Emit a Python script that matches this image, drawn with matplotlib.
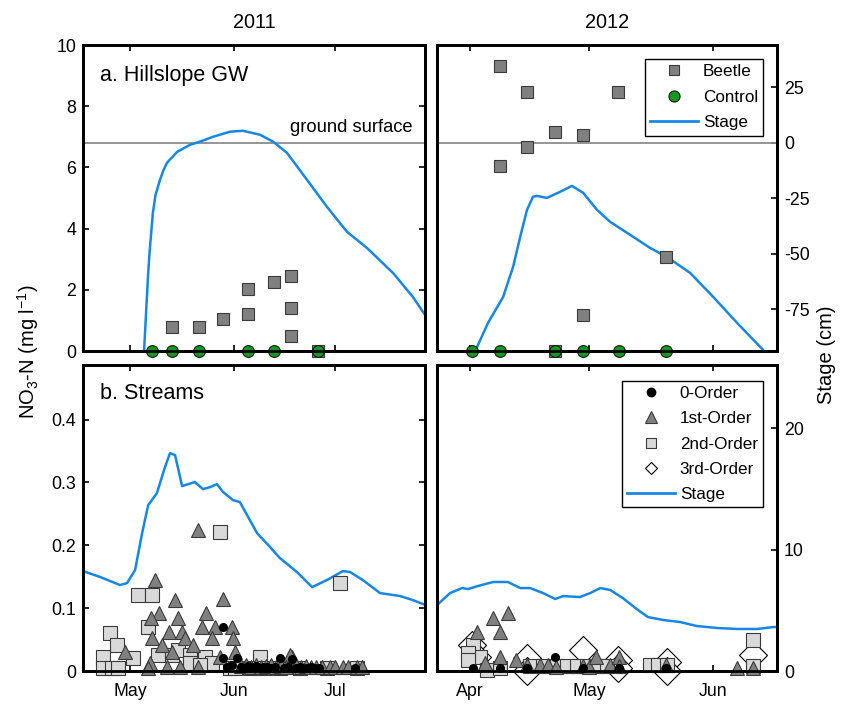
import numpy as np
import matplotlib
matplotlib.use('Agg')
import matplotlib.pyplot as plt
import matplotlib.dates as mdates
from matplotlib.lines import Line2D
from matplotlib.ticker import FuncFormatter

plt.rcParams['font.family'] = ['Liberation Sans', 'DejaVu Sans']
plt.rcParams['mathtext.fontset'] = 'custom'
plt.rcParams['mathtext.rm'] = 'Liberation Sans'
plt.rcParams['mathtext.it'] = 'Liberation Sans:italic'
plt.rcParams['axes.unicode_minus'] = False

# ---- data: day of year, NO3-N (mg/l), stage (cm) ----
# a. hillslope groundwater, 2011
gw11_beetle_doy = [133.5, 141.5, 148.7, 156.0, 156.0, 164.0, 169.0, 169.0, 169.0, 177.0]
gw11_beetle_no3 = [0.78, 0.78, 1.05, 1.21, 2.03, 2.25, 2.45, 1.40, 0.49, 0.00]
gw11_control_doy = [127.5, 133.5, 141.5, 156.0, 164.0, 177.0]
gw11_control_no3 = [0.0, 0.0, 0.0, 0.0, 0.0, 0.0]
gw11_stage_doy = [124.6, 125.2, 126.4, 126.9, 127.8, 128.6, 129.9, 131.0, 132.0, 135.0,
                  138.9, 141.8, 145.7, 150.8, 154.6, 159.7, 163.6, 167.7, 173.7, 179.6,
                  185.6, 191.5, 199.3, 205.2, 208.2, 211.0]
gw11_stage_cm = [-100.0, -93.0, -58.6, -47.7, -31.5, -23.4, -16.7, -12.2, -9.0, -4.1,
                 -0.9, 0.5, 2.7, 5.0, 5.4, 3.6, 0.5, -4.5, -16.7, -28.8,
                 -40.1, -47.3, -58.6, -69.4, -76.1, -82.0]

# a. hillslope groundwater, 2012
gw12_beetle_doy = [99.5, 106.3, 129.2, 113.4, 120.4, 106.3, 99.5, 141.2, 120.4, 113.4]
gw12_beetle_no3 = [9.31, 8.46, 8.46, 7.16, 7.06, 6.67, 6.05, 3.07, 1.18, 0.00]
gw12_control_doy = [92.5, 99.5, 113.4, 120.4, 129.4, 141.2]
gw12_control_no3 = [0.0, 0.0, 0.0, 0.0, 0.0, 0.0]
gw12_stage_doy = [92.0, 93.3, 96.5, 100.3, 102.8, 104.6, 106.3, 107.8, 108.8, 111.3,
                  114.6, 117.6, 120.4, 123.9, 127.2, 132.2, 137.2, 141.5, 147.3, 153.1,
                  159.1, 165.6, 168.0]
gw12_stage_cm = [-100.0, -93.7, -81.1, -69.4, -55.9, -42.3, -30.2, -24.3, -23.9, -24.8,
                 -22.1, -19.4, -22.5, -30.2, -35.6, -41.4, -47.3, -51.4, -58.6, -69.4,
                 -81.1, -93.2, -100.0]

# b. streams, 2011
st11_o0_doy = [148.7, 148.7, 152.8, 151.4, 149.9, 156.1, 165.6, 169.2, 154.0, 155.2,
               157.3, 158.4, 159.6, 160.7, 161.9, 163.0, 164.2, 166.7, 167.9, 170.3,
               171.5, 172.6, 173.8, 175.0, 176.1, 177.3, 188.0]
st11_o0_no3 = [0.070, 0.021, 0.021, 0.010, 0.006, 0.008, 0.021, 0.019, 0.007, 0.005,
               0.006, 0.008, 0.005, 0.006, 0.007, 0.005, 0.006, 0.005, 0.007, 0.005,
               0.006, 0.005, 0.005, 0.006, 0.005, 0.005, 0.005]
st11_o1_doy = [128.4, 141.2, 134.4, 148.7, 129.6, 127.3, 135.3, 143.6, 132.6, 136.5,
               142.4, 146.3, 151.4, 127.5, 137.4, 145.4, 151.7, 130.5, 139.8, 119.5,
               133.5, 152.3, 127.0, 132.0, 141.2, 147.8, 169.2, 126.4, 135.9, 168.6,
               154.0, 155.5, 157.0, 158.5, 160.0, 161.5, 163.0, 164.5, 166.0, 167.5,
               170.5, 172.0, 173.5, 175.0, 176.5, 178.0, 180.5, 182.0, 184.5, 186.0,
               188.5, 190.0]
st11_o1_no3 = [0.145, 0.224, 0.113, 0.114, 0.092, 0.084, 0.084, 0.092, 0.062, 0.062,
               0.070, 0.070, 0.070, 0.052, 0.052, 0.052, 0.052, 0.041, 0.041, 0.030,
               0.030, 0.030, 0.013, 0.006, 0.006, 0.022, 0.022, 0.005, 0.006, 0.025,
               0.008, 0.010, 0.007, 0.009, 0.006, 0.008, 0.010, 0.007, 0.008, 0.006,
               0.009, 0.007, 0.008, 0.006, 0.007, 0.006, 0.007, 0.006, 0.007, 0.006,
               0.007, 0.006]
st11_o2_doy = [115.0, 117.1, 113.0, 121.9, 113.0, 115.6, 117.4, 123.4, 127.5, 126.4,
               147.8, 183.5, 159.7, 129.3, 133.5, 135.3, 138.9, 143.3, 138.9, 145.4,
               141.8, 150.8, 152.3, 156.7, 161.2, 165.6, 171.6, 179.6, 188.6]
st11_o2_no3 = [0.060, 0.041, 0.022, 0.021, 0.005, 0.005, 0.005, 0.121, 0.121, 0.070,
               0.221, 0.140, 0.022, 0.025, 0.025, 0.033, 0.025, 0.022, 0.013, 0.013,
               0.010, 0.005, 0.005, 0.005, 0.005, 0.005, 0.005, 0.005, 0.005]
st11_stage_doy = [107.0, 112.1, 118.0, 120.1, 122.5, 124.6, 126.4, 129.0, 131.4, 132.9,
                  134.4, 136.5, 140.3, 142.7, 144.8, 146.9, 148.7, 151.7, 153.7, 158.8,
                  162.7, 165.6, 170.7, 175.2, 179.6, 184.4, 186.5, 190.3, 195.4, 201.4,
                  205.2, 208.8]
st11_stage_cm = [8.23, 7.74, 7.08, 7.24, 8.31, 11.36, 13.66, 14.65, 16.79, 17.94,
                 17.78, 15.23, 15.56, 14.98, 15.14, 15.39, 14.73, 14.07, 13.91, 11.36,
                 10.20, 9.30, 8.15, 6.91, 7.49, 8.23, 8.15, 7.49, 6.42, 6.17,
                 5.84, 5.45]

# b. streams, 2012
st12_o0_doy = [92.8, 99.5, 106.3, 113.4, 120.4, 129.4, 141.2]
st12_o0_no3 = [0.005, 0.005, 0.005, 0.022, 0.005, 0.005, 0.005]
st12_o1_doy = [101.5, 97.8, 99.5, 93.8, 95.8, 99.5, 103.6, 106.3, 109.6, 111.6,
               113.6, 120.4, 121.9, 123.7, 127.2, 129.4, 129.4, 141.2, 159.1, 163.1]
st12_o1_no3 = [0.092, 0.084, 0.062, 0.062, 0.013, 0.022, 0.017, 0.010, 0.010, 0.010,
               0.006, 0.008, 0.006, 0.022, 0.010, 0.022, 0.008, 0.010, 0.005, 0.005]
st12_o2_doy = [92.8, 94.5, 91.5, 91.5, 96.3, 99.5, 107.1, 110.3, 113.9, 116.4,
               118.9, 121.4, 123.9, 126.4, 137.2, 139.2, 141.5, 163.1, 163.1]
st12_o2_no3 = [0.041, 0.022, 0.028, 0.017, 0.002, 0.005, 0.008, 0.008, 0.008, 0.008,
               0.008, 0.008, 0.008, 0.008, 0.010, 0.010, 0.010, 0.049, 0.008]
st12_o3_doy = [92.5, 93.8, 106.3, 106.3, 120.4, 129.2, 129.2, 141.5, 141.5, 163.1]
st12_o3_no3 = [0.041, 0.022, 0.021, 0.000, 0.033, 0.017, 0.005, 0.014, 0.000, 0.025]
st12_stage_doy = [83.7, 87.0, 90.0, 91.5, 94.0, 97.8, 101.5, 104.6, 107.1, 110.3,
                  113.4, 115.4, 119.6, 122.2, 124.7, 127.2, 130.4, 134.2, 136.7, 140.5,
                  144.8, 149.0, 154.1, 159.1, 164.1, 168.1, 169.1]
st12_stage_cm = [5.43, 6.42, 6.83, 6.75, 7.00, 7.33, 7.33, 6.83, 6.83, 6.42,
                 5.93, 6.17, 6.09, 6.42, 6.83, 6.67, 6.00, 5.02, 4.44, 4.20,
                 4.03, 3.70, 3.54, 3.46, 3.46, 3.62, 3.62]

xlim_doy = {2011: (107.0, 208.8), 2012: (83.7, 169.1)}

BLUE = '#1787e6'
GREEN = '#109a1c'
GRAY = '#808080'
LIGHT = '#d9d9d9'
TICK_FS = 12.8
LEG_FS = 12.3


def to_num(year, doy):
    return mdates.date2num(np.datetime64(f'{year}-01-01')) + np.asarray(doy, dtype=float) - 1


fig = plt.figure(figsize=(8.41, 7.04), dpi=100)
W, H = 841, 704


def make_axes(x0, x1, ytop, ybot):
    return fig.add_axes([x0 / W, 1 - ybot / H, (x1 - x0) / W, (ybot - ytop) / H])


ax_a11 = make_axes(83, 425, 45, 351)
ax_a12 = make_axes(437, 777, 45, 351)
ax_b11 = make_axes(83, 425, 365, 671)
ax_b12 = make_axes(437, 777, 365, 671)

panels = {}
for ax, year, top in [(ax_a11, 2011, True), (ax_a12, 2012, True),
                      (ax_b11, 2011, False), (ax_b12, 2012, False)]:
    tw = ax.twinx()
    ax.set_zorder(tw.get_zorder() + 1)
    ax.patch.set_visible(False)
    ax.set_xlim(*to_num(year, xlim_doy[year]))
    ax.xaxis.set_major_locator(mdates.MonthLocator())
    ax.xaxis.set_major_formatter(mdates.DateFormatter('%b'))
    for a in (ax, tw):
        for s in a.spines.values():
            s.set_linewidth(2)
    ax.tick_params(direction='in', length=4, width=1.2, top=True, labelsize=TICK_FS,
                   labelbottom=not top, pad=5)
    ax.tick_params(axis='x', pad=9)
    tw.tick_params(direction='in', length=4, width=1.2, labelsize=TICK_FS, pad=5)
    if year == 2011:
        ax.tick_params(right=True)
        tw.tick_params(right=False, labelright=False)
    else:
        ax.tick_params(left=False, labelleft=False)
    panels[(year, top)] = (ax, tw)

# ---- a. hillslope GW ----
for year, bd, bn, cd, cn, sd, sc in [
        (2011, gw11_beetle_doy, gw11_beetle_no3, gw11_control_doy, gw11_control_no3,
         gw11_stage_doy, gw11_stage_cm),
        (2012, gw12_beetle_doy, gw12_beetle_no3, gw12_control_doy, gw12_control_no3,
         gw12_stage_doy, gw12_stage_cm)]:
    ax, tw = panels[(year, True)]
    tw.axhline(0, color='#8c8c8c', lw=1.3)
    tw.plot(to_num(year, sd), sc, color=BLUE, lw=1.8)
    tw.set_ylim(-93.7, 44)
    tw.set_yticks([-75, -50, -25, 0, 25])
    ax.plot(to_num(year, bd), bn, 's', ms=8, mfc=GRAY, mec='#3a3a3a', mew=0.8,
            ls='none', clip_on=False)
    ax.plot(to_num(year, cd), cn, 'o', ms=8.5, mfc=GREEN, mec='#1a1a1a', mew=0.8,
            ls='none', clip_on=False)
    ax.set_ylim(0, 10)
    ax.set_yticks([0, 2, 4, 6, 8, 10])

ax_a11.text(0.965, 0.703, 'ground surface', transform=ax_a11.transAxes,
            ha='right', va='bottom', fontsize=13.2)
ax_a11.text(0.05, 0.90, 'a. Hillslope GW', transform=ax_a11.transAxes,
            ha='left', va='center', fontsize=15.5)

h_gw = [Line2D([], [], marker='s', ms=7, mfc=GRAY, mec='#3a3a3a', mew=0.8, ls='none'),
        Line2D([], [], marker='o', ms=8, mfc=GREEN, mec='#1a1a1a', mew=0.8, ls='none'),
        Line2D([], [], color=BLUE, lw=2)]
ax_a12.legend(h_gw, ['Beetle', 'Control', 'Stage'], loc='upper right',
              bbox_to_anchor=(0.959, 0.954), borderaxespad=0, fancybox=False,
              edgecolor='black', framealpha=1, fontsize=LEG_FS, handlelength=2.8,
              handletextpad=0.3, labelspacing=0.62,
              borderpad=0.3).get_frame().set_linewidth(1)

# ---- b. streams ----
o0_style = dict(marker='o', ms=5.5, mfc='black', mec='black', ls='none', clip_on=False)
o1_style = dict(marker='^', ms=10, mfc=GRAY, mec='#3a3a3a', mew=0.8, ls='none', clip_on=False)
o2_style = dict(marker='s', ms=9.5, mfc=LIGHT, mec='#3a3a3a', mew=0.8, ls='none', clip_on=False)
o3_style = dict(marker='D', ms=14, mfc='white', mec='black', mew=0.8, ls='none', clip_on=False)

ax, tw = panels[(2011, False)]
tw.plot(to_num(2011, st11_stage_doy), st11_stage_cm, color=BLUE, lw=1.8)
ax.plot(to_num(2011, st11_o2_doy), st11_o2_no3, **o2_style)
ax.plot(to_num(2011, st11_o1_doy), st11_o1_no3, **o1_style)
ax.plot(to_num(2011, st11_o0_doy), st11_o0_no3, **o0_style)

ax, tw = panels[(2012, False)]
tw.plot(to_num(2012, st12_stage_doy), st12_stage_cm, color=BLUE, lw=1.8)
ax.plot(to_num(2012, st12_o3_doy), st12_o3_no3, **o3_style)
ax.plot(to_num(2012, st12_o2_doy), st12_o2_no3, **o2_style)
ax.plot(to_num(2012, st12_o1_doy), st12_o1_no3, **o1_style)
ax.plot(to_num(2012, st12_o0_doy), st12_o0_no3, **o0_style)

for year in (2011, 2012):
    ax, tw = panels[(year, False)]
    ax.set_ylim(0, 0.487)
    ax.set_yticks([0, 0.1, 0.2, 0.3, 0.4])
    ax.yaxis.set_major_formatter(FuncFormatter(lambda v, p: f'{v:g}'))
    tw.set_ylim(0, 25.2)
    tw.set_yticks([0, 10, 20])

ax_b11.text(0.05, 0.908, 'b. Streams', transform=ax_b11.transAxes,
            ha='left', va='center', fontsize=15.5)

h_st = [Line2D([], [], marker='o', ms=6, mfc='black', mec='black', ls='none'),
        Line2D([], [], marker='^', ms=9, mfc=GRAY, mec='#3a3a3a', mew=0.8, ls='none'),
        Line2D([], [], marker='s', ms=6.5, mfc=LIGHT, mec='#3a3a3a', mew=0.8, ls='none'),
        Line2D([], [], marker='D', ms=6.5, mfc='white', mec='black', mew=0.8, ls='none'),
        Line2D([], [], color=BLUE, lw=2)]
ax_b12.legend(h_st, ['0-Order', '1st-Order', '2nd-Order', '3rd-Order', 'Stage'],
              loc='upper right', bbox_to_anchor=(0.959, 0.948), borderaxespad=0,
              fancybox=False, edgecolor='black', framealpha=1, fontsize=LEG_FS,
              handlelength=2.8, handletextpad=0.3, labelspacing=0.6,
              borderpad=0.3).get_frame().set_linewidth(1)

# ---- titles and axis labels ----
fig.text(254 / W, 1 - 22 / H, '2011', ha='center', va='center', fontsize=14.3)
fig.text(607 / W, 1 - 22 / H, '2012', ha='center', va='center', fontsize=14.3)
fig.text(28 / W, 1 - 352 / H, r'NO$_3$-N (mg l$^{-1}$)', rotation=90,
         ha='center', va='center', fontsize=14.5)
fig.text(826 / W, 1 - 355 / H, 'Stage (cm)', rotation=90,
         ha='center', va='center', fontsize=14.5)

fig.savefig('out.png', dpi=100)
